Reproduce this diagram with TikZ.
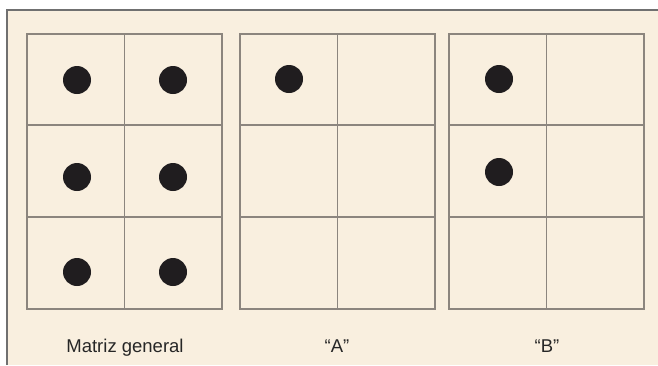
\documentclass[tikz,border=0pt]{standalone}
\usepackage{fontspec}
\setmainfont{Liberation Sans}
\definecolor{PaperClr}{RGB}{249,239,223}
\definecolor{GridClr}{RGB}{140,133,126}
\definecolor{FrameClr}{RGB}{112,112,112}
\definecolor{DotClr}{RGB}{32,29,31}

\begin{document}
\begin{tikzpicture}[x=1pt,y=-1pt,
  gridline/.style={GridClr,line width=1.8pt},
  dot/.style={circle,fill=DotClr,inner sep=0pt,minimum size=28pt},
  caption/.style={font=\fontsize{18.5}{22}\selectfont,text=black!85,anchor=base}]
\useasboundingbox (0,0) rectangle (658,365);
\fill[white] (0,0) rectangle (658,365);
\fill[PaperClr] (7,10) rectangle (658,365);
\draw[FrameClr,line width=1.5pt] (7,365) -- (7,10) -- (658,10);

% the three matrices
\foreach \gx in {27,240,449}{
  \draw[gridline] (\gx,34) rectangle (\gx+195,309);
  \draw[gridline] (\gx+97.5,34) -- (\gx+97.5,309);
  \draw[gridline] (\gx,125) -- (\gx+195,125);
  \draw[gridline] (\gx,217) -- (\gx+195,217);
}

% matriz general
\foreach \px/\py [count=\i] in {77/80,173/80,77/177,173/177,77/272,173/272}
  \node[dot] (g\i) at (\px,\py) {};

% "A"
\node[dot] (a1) at (289,79) {};

% "B"
\node[dot] (b1) at (499,79) {};
\node[dot] (b2) at (499,172) {};

\node[caption] (lgen) at (125,352) {Matriz general};
\node[caption] (la) at (337,352) {“A”};
\node[caption] (lb) at (547,352) {“B”};

\end{tikzpicture}
\end{document}
